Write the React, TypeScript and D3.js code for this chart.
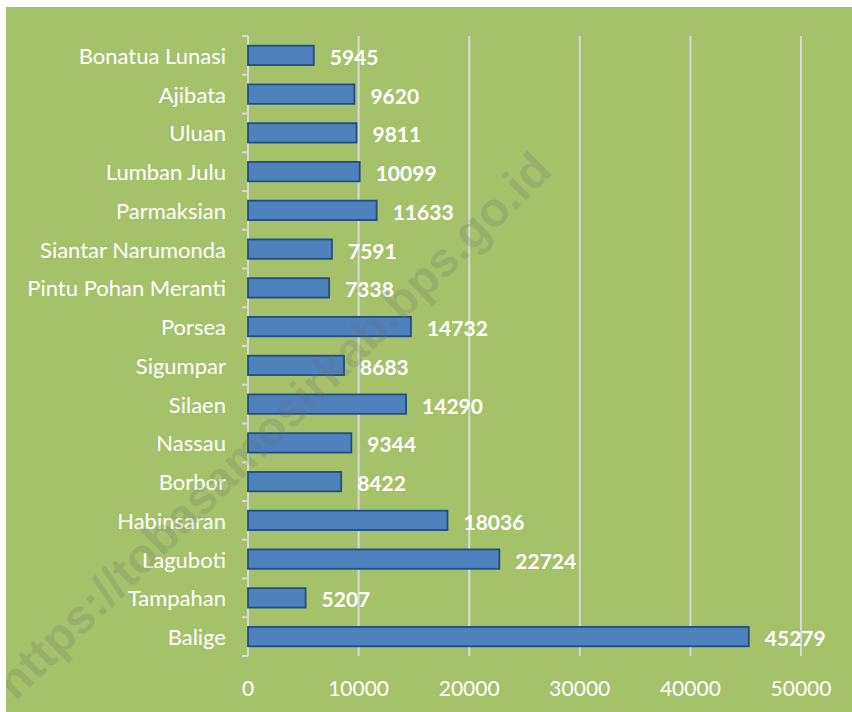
import React, { useEffect } from "react";
import * as d3 from "d3";

const categories = [
  "Bonatua Lunasi",
  "Ajibata",
  "Uluan",
  "Lumban Julu",
  "Parmaksian",
  "Siantar Narumonda",
  "Pintu Pohan Meranti",
  "Porsea",
  "Sigumpar",
  "Silaen",
  "Nassau",
  "Borbor",
  "Habinsaran",
  "Laguboti",
  "Tampahan",
  "Balige",
];
const values = [5945, 9620, 9811, 10099, 11633, 7591, 7338, 14732, 8683, 14290, 9344, 8422, 18036, 22724, 5207, 45279];
const xTicks = [0, 10000, 20000, 30000, 40000, 50000];
const watermark = "https://tobasamosirkab.bps.go.id";

export default function App() {
  useEffect(() => {
    document.body.style.margin = "0";
  }, []);
  const W = 852;
  const H = 712;
  const top = 36;
  const bottom = 656;
  const x = d3.scaleLinear().domain([0, 50000]).range([248, 801]);
  const y = d3.scaleBand<string>().domain(categories).range([top, bottom]).paddingInner(0.5).paddingOuter(0.25);
  const step = y.step();
  const font = "Lato, 'Open Sans', sans-serif";
  return (
    <svg width={W} height={H} style={{ display: "block" }}>
      <defs>
        <clipPath id="plotClip">
          <rect x={6} y={7} width={W - 6} height={H - 7} />
        </clipPath>
      </defs>
      <rect x={0} y={0} width={W} height={H} fill="#ffffff" />
      <rect x={6} y={7} width={W - 6} height={H - 7} fill="#a5c26b" />
      {xTicks.map((t) => (
        <line key={"g" + t} x1={x(t)} x2={x(t)} y1={top} y2={bottom} stroke="#d9d9d9" strokeWidth={2} />
      ))}
      <line x1={x(0)} x2={x(0)} y1={top} y2={bottom} stroke="#d9d9d9" strokeWidth={2} />
      {d3.range(categories.length + 1).map((i) => (
        <line key={"t" + i} x1={x(0) - 6} x2={x(0)} y1={top + i * step} y2={top + i * step} stroke="#d9d9d9" strokeWidth={2} />
      ))}
      {categories.map((c, i) => (
        <g key={c}>
          <rect
            x={x(0)}
            y={y(c)!}
            width={x(values[i]) - x(0)}
            height={y.bandwidth()}
            fill="#4f81bd"
            stroke="#1f4e85"
            strokeWidth={1.8}
          />
          <text
            x={x(0) - 22}
            y={y(c)! + y.bandwidth() / 2}
            textAnchor="end"
            dominantBaseline="central"
            fill="#ffffff"
            fontFamily={font}
            fontSize={22}
          >
            {c}
          </text>
          <text
            x={x(values[i]) + 16}
            y={y(c)! + y.bandwidth() / 2 + 1}
            dominantBaseline="central"
            fill="#ffffff"
            fontFamily={font}
            fontWeight="bold"
            fontSize={21}
          >
            {values[i]}
          </text>
        </g>
      ))}
      {xTicks.map((t) => (
        <text
          key={"l" + t}
          x={x(t)}
          y={687}
          textAnchor="middle"
          dominantBaseline="central"
          fill="#ffffff"
          fontFamily={font}
          fontSize={21}
        >
          {t}
        </text>
      ))}
      <g clipPath="url(#plotClip)">
        <text
          x={0}
          y={0}
          transform="translate(4,690) rotate(-44.5)"
          textAnchor="start"
          dominantBaseline="central"
          fill="#6e6e6e"
          fillOpacity={0.22}
          fontFamily="'Liberation Sans', Arial, sans-serif"
          fontWeight="bold"
          fontSize={48}
        >
          {watermark}
        </text>
      </g>
    </svg>
  );
}
